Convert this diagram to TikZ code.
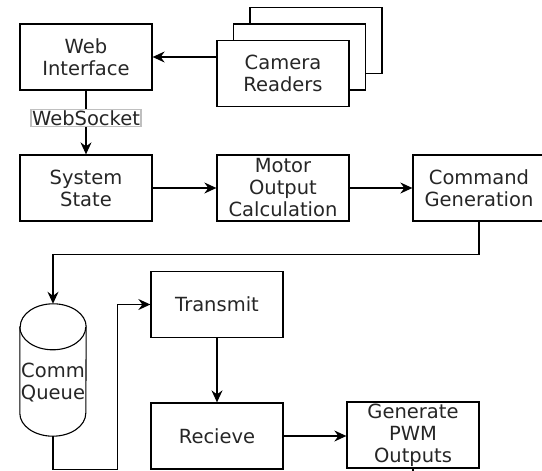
\documentclass[tikz,border=0pt]{standalone}
\usepackage{fontspec}
\setmainfont{DejaVu Sans}
\usetikzlibrary{arrows.meta,calc}

\tikzset{
  blk/.style={draw, line width=1.3pt, fill=white, minimum width=132pt, minimum height=66pt,
              inner sep=0pt, align=center, text=black!85,
              font=\fontsize{19.5}{22}\selectfont},
  arr/.style={line width=1.3pt, -{Stealth[length=12pt,width=11pt,inset=4pt]}},
  wire/.style={line width=1.3pt},
  tag/.style={draw=black!25, fill=white, inner sep=1pt, text=black!85,
              font=\fontsize{19.5}{22}\selectfont}
}

\begin{document}
\begin{tikzpicture}[x=1pt, y=-1pt]
  \useasboundingbox (0,0) rectangle (542,471);
  \clip (0,0) rectangle (542,471);
  \fill[white] (0,0) rectangle (542,471);

  % camera readers: three stacked boxes
  \node[blk] (cam3) at (316,40.5) {};
  \node[blk] (cam2) at (299.5,57) {};
  \node[blk] (cam1) at (283,73.5) {Camera\\Readers};

  \node[blk] (web)   at (86,57)   {Web\\Interface};
  \node[blk] (sys)   at (86,188)  {System\\State};
  \node[blk] (motor) at (283,188) {Motor\\Output\\Calculation};
  \node[blk] (cmd)   at (479,188) {Command\\Generation};
  \node[blk] (tx)    at (217,304.5) {Transmit};
  \node[blk] (rx)    at (217,436)   {Recieve};
  \node[blk] (pwm)   at (413,435)   {Generate\\PWM\\Outputs};

  % comm queue drawn as a cylinder
  \node[minimum width=66pt, minimum height=132pt, inner sep=0pt] (queue) at (53,370) {};
  \draw[line width=1.1pt, fill=white]
    ($(queue.north west)+(0,23)$) -- ($(queue.south west)+(0,-23)$)
    arc[start angle=180, end angle=0, x radius=33, y radius=23]
    -- ($(queue.north east)+(0,23)$)
    arc[start angle=0, end angle=-180, x radius=33, y radius=23] -- cycle;
  \draw[line width=1.1pt] ($(queue.north west)+(0,23)$)
    arc[start angle=180, end angle=0, x radius=33, y radius=23];
  \node[align=center, inner sep=0pt, text=black!85, font=\fontsize{19.5}{22}\selectfont]
    (qtext) at (53,383) {Comm\\Queue};

  % connectors
  \draw[arr] (cam1.west |- web.east) -- (web.east);
  \draw[arr] (web.south) -- node[tag, pos=0.43] (ws) {WebSocket} (sys.north);
  \draw[arr] (sys.east) -- (motor.west);
  \draw[arr] (motor.east) -- (cmd.west);
  \draw[arr] (cmd.south) -- ++(0,33) -| (queue.north);
  \draw[arr] (queue.south) -- ++(0,33) -| ($(tx.west)+(-33,0)$) -- (tx.west);
  \draw[arr] (tx.south) -- (rx.north);
  \draw[arr] (rx.east) -- (rx.east -| pwm.west);
  \coordinate (pwmout) at ($(pwm.south)+(0,10)$);
  \draw[wire] (pwm.south) -- (pwmout);
\end{tikzpicture}
\end{document}
